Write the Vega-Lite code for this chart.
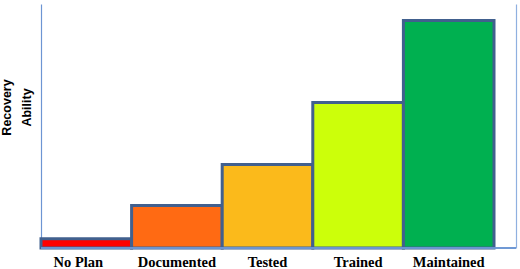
{
  "$schema": "https://vega.github.io/schema/vega-lite/v6.json",
  "width": 475,
  "height": 244,
  "autosize": "none",
  "padding": {"left": 41, "top": 4, "right": 4, "bottom": 21},
  "background": "white",
  "config": {"view": {"stroke": null}},
  "data": {"values": [
    {"stage": "No Plan", "ability": 3.8, "color": "#FF0000"},
    {"stage": "Documented", "ability": 17.4, "color": "#FF6A13"},
    {"stage": "Tested", "ability": 34.2, "color": "#FBBA1B"},
    {"stage": "Trained", "ability": 59.6, "color": "#CCFF0A"},
    {"stage": "Maintained", "ability": 93.2, "color": "#00B050"}
  ]},
  "resolve": {"axis": {"y": "independent"}},
  "layer": [
    {
      "mark": {"type": "bar", "stroke": "#41608E", "strokeWidth": 3},
      "encoding": {
        "x": {
          "field": "stage", "type": "nominal", "sort": null,
          "scale": {"range": [0, 453], "paddingInner": 0, "paddingOuter": 0},
          "axis": {
            "title": null, "domain": false, "ticks": false, "labelAngle": 0,
            "labelFont": "Liberation Serif", "labelFontWeight": "bold", "labelFontSize": 14.5,
            "labelColor": "black", "labelPadding": 7,
            "labelOffset": {"condition": {"test": "datum.value === 'No Plan'", "value": -8}, "value": 0}
          }
        },
        "y": {
          "field": "ability", "type": "quantitative",
          "scale": {"domain": [0, 100], "nice": false},
          "axis": {
            "title": ["Recovery", "Ability"], "titleFont": "Liberation Sans", "titleFontWeight": "bold",
            "titleFontSize": 12.5, "titleLineHeight": 20, "titleColor": "black",
            "titleAngle": -90, "titleAlign": "center", "titleBaseline": "bottom", "titleX": -28, "titleY": 103,
            "labels": false, "ticks": false, "grid": false,
            "domainColor": "#6D95D3", "domainWidth": 1.2
          }
        },
        "fill": {"field": "color", "type": "nominal", "scale": null, "legend": null}
      }
    },
    {
      "mark": {"type": "rule", "color": "#6D95D3", "strokeWidth": 1.2},
      "encoding": {
        "y": {
          "datum": 0, "type": "quantitative",
          "axis": {"orient": "right", "title": null, "labels": false, "ticks": false, "grid": false,
                   "domainColor": "#8FB0E0", "domainWidth": 1.2}
        }
      }
    }
  ]
}
